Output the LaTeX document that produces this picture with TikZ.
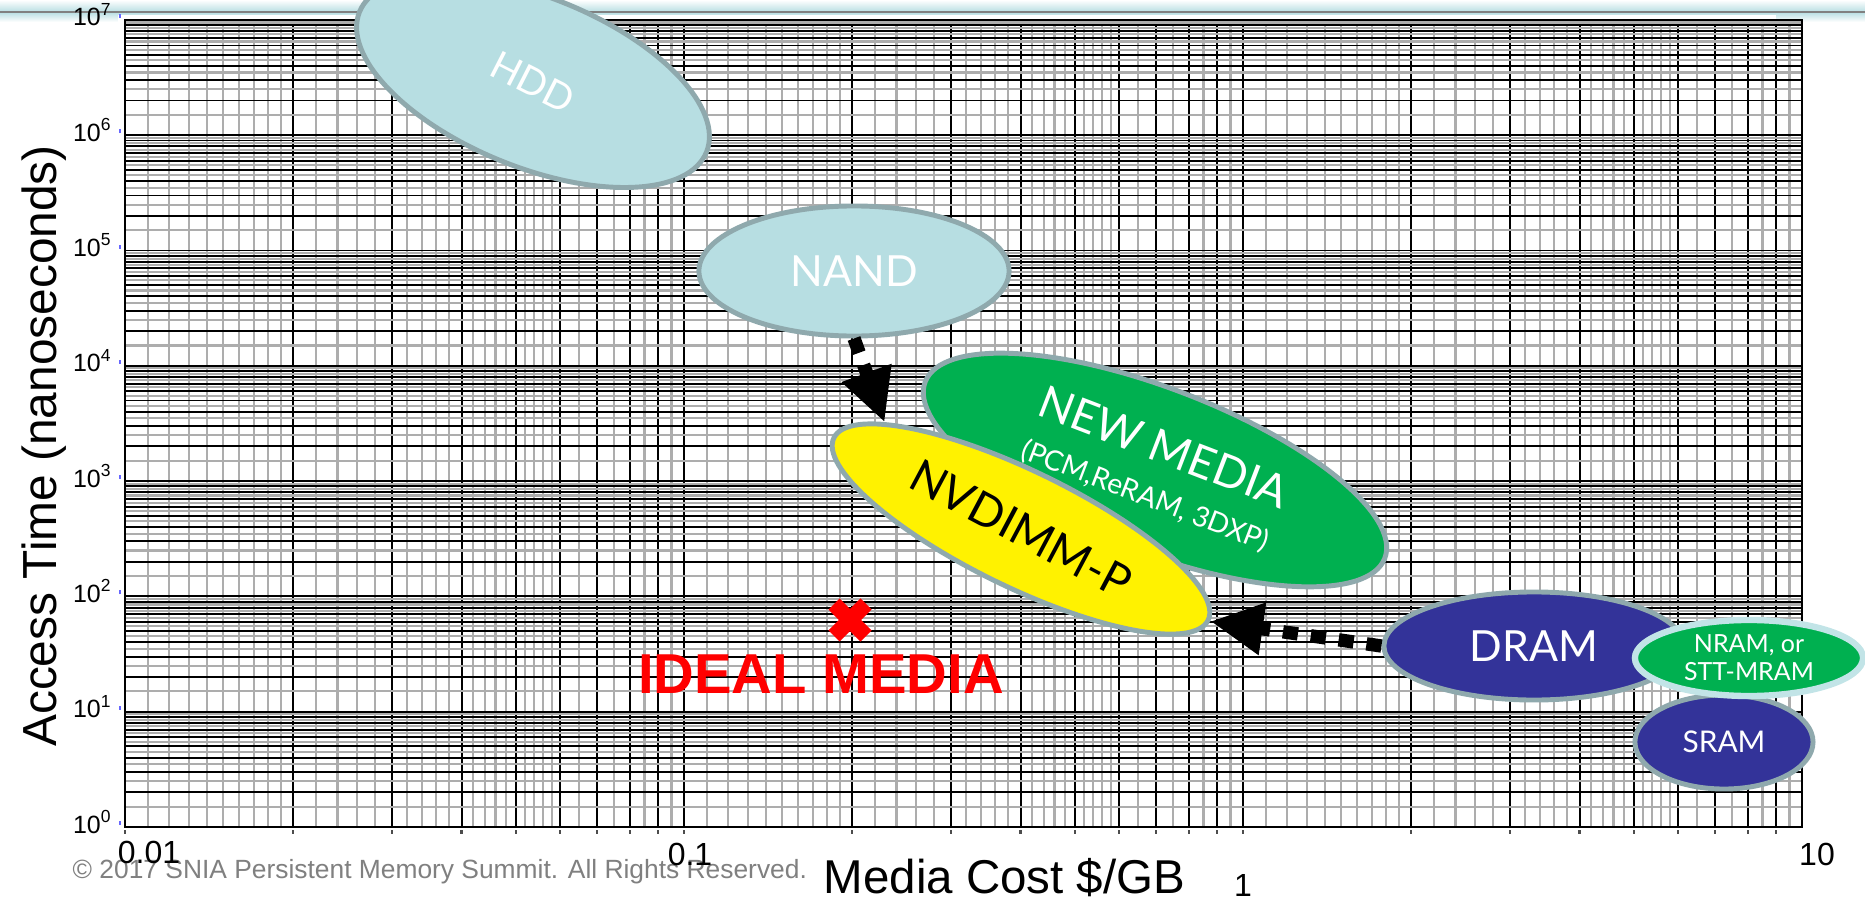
\documentclass[tikz,border=0pt]{standalone}
\usepackage{fontspec}
\setmainfont{Liberation Sans}
\newfontfamily\gill{Lato}
\usetikzlibrary{shapes.geometric,arrows.meta}
\definecolor{paleteal}{HTML}{B7DEE2}
\definecolor{rim}{HTML}{8FA9AD}
\definecolor{nvgreen}{HTML}{00B050}
\definecolor{ramblue}{HTML}{333399}
\definecolor{nramrim}{HTML}{C2E4E7}
\newcommand{\fsz}[2]{\fontsize{#1}{#2}\selectfont}
\begin{document}
\begin{tikzpicture}[x=0.01cm,y=-0.01cm,
	blob/.style={ellipse,draw=rim,line width=1.4pt,inner sep=0pt,text=white,align=center},
	gridbold/.style={black,line width=0.55pt},
	gridfine/.style={black!32,line width=0.6pt},
	migrate/.style={line width=3.8pt,dash pattern=on 4.3pt off 3.7pt,-{Triangle[length=15pt,width=14pt]}}]
	\useasboundingbox (0,0) rectangle (1865,903);
	% slide header rule
	\shade[top color=white,bottom color=paleteal] (0,0) rectangle (1865,12);
	\shade[top color=paleteal,bottom color=white] (0,12) rectangle (1865,22);
	\draw[gray,line width=0.8pt] (0,12)--(1865,12);
	\fill[white] (118,15) rectangle (1776,903);
	% log-log paper: 0.01..10 $/GB, 10^0..10^7 ns
	\foreach \d in {0,1,2}{
		\foreach \m in {1.1,1.2,1.3,1.4,1.5,1.6,1.7,1.8,1.9,2.2,2.4,2.6,2.8,3.2,3.4,3.6,3.8,4.2,4.4,4.6,4.8,5.2,5.4,5.6,5.8,6.5,7.5,8.5,9.5}
			\draw[gridfine] ({125+559*(\d+log10(\m))},20)--++(0,807);
		\foreach \m in {1,...,9}{
			\draw[gridbold] ({125+559*(\d+log10(\m))},20)--++(0,807);
			\draw[black!70,line width=0.6pt] ({125+559*(\d+log10(\m))},830)--++(0,4);
		}
	}
	\foreach \e in {0,...,6}{
		\foreach \m in {1.5,2.5,3.5,4.5,5.5,6.5,7.5,8.5,9.5}
			\draw[gridfine] (125,{827-115.3*(\e+log10(\m))})--++(1677,0);
		\foreach \m in {1,...,9}
			\draw[gridbold] (125,{827-115.3*(\e+log10(\m))})--++(1677,0);
	}
	\draw[gridbold,line width=0.7pt] (125,20) rectangle (1802,827);
	\foreach \e in {0,...,7}{
		\node[anchor=base east,inner sep=0pt,font=\fsz{7.1pt}{8pt}] (e\e) at (113,{833-115.3*\e}) {10\textsuperscript{\e}};
		\draw[blue!60,line width=0.6pt] (120,{825-115.3*\e})--++(0,-4);
	}
	\node[anchor=base west,inner sep=0pt,text=gray,font=\fsz{7.5pt}{9pt}] (copy) at (72,878) {\textcopyright{} 2017 SNIA Persistent Memory Summit. All Rights Reserved.};
	\node[anchor=base,inner sep=0pt,font=\fsz{9.1pt}{11pt}] (c0) at (149,863) {0.01};
	\node[anchor=base,inner sep=0pt,font=\fsz{9.1pt}{11pt}] (c1) at (690,865) {0.1};
	\node[anchor=base,inner sep=0pt,font=\fsz{9.1pt}{11pt}] (c2) at (1243,896) {1};
	\node[anchor=base,inner sep=0pt,font=\fsz{9.1pt}{11pt}] (c3) at (1817,865) {10};
	\node[rotate=90,anchor=base,inner sep=0pt,font=\fsz{13.6pt}{16pt}] (ytitle) at (57,446) {Access Time (nanoseconds)};
	\node[anchor=base west,inner sep=0pt,font=\fsz{13.5pt}{16pt}] (xtitle) at (823,893) {Media Cost \$/GB};
	% media bubbles
	\node[blob,fill=paleteal,minimum width=3.74cm,minimum height=1.7cm,rotate=-22,font=\gill\fsz{11pt}{13pt}] (hdd) at (533,82) {\rotatebox{-5}{HDD}};
	\node[blob,fill=paleteal,minimum width=3.1cm,minimum height=1.3cm,font=\gill\fsz{12.2pt}{14pt}] (nand) at (854,271) {NAND};
	\node[blob,fill=nvgreen,minimum width=4.92cm,minimum height=1.64cm,rotate=-21,font=\gill\fsz{12.8pt}{13pt}] (newmedia) at (1155,470) {NEW MEDIA\\{\fsz{8pt}{9pt}(PCM,ReRAM, 3DXP)}};
	\node[blob,fill=yellow,text=black,minimum width=4.16cm,minimum height=1.16cm,rotate=-26,font=\gill\fsz{13pt}{15pt}] (nvdimm) at (1021,529) {\rotatebox{-2}{NVDIMM-P}};
	\node[blob,fill=ramblue,minimum width=3cm,minimum height=1.08cm,font=\gill\fsz{12.2pt}{14pt}] (dram) at (1534,646) {DRAM};
	\node[blob,fill=ramblue,minimum width=1.78cm,minimum height=0.94cm,font=\gill\fsz{8.5pt}{10pt}] (sram) at (1724,742) {SRAM};
	\node[blob,fill=nvgreen,draw=nramrim,line width=1.8pt,minimum width=2.28cm,minimum height=0.76cm,font=\gill\fsz{7.1pt}{8pt}] (nram) at (1749,658) {NRAM, or\\STT-MRAM};
	\draw[migrate] (nand.south)--(nvdimm.168);
	\draw[migrate] (dram.west)--(nvdimm.east);
	% ideal point
	\coordinate (ideal) at (850,620);
	\draw[red,line width=4.5pt] (ideal) +(-16,-16)--+(16,16) (ideal) +(-16,16)--+(16,-16);
	\node[anchor=base,red,inner sep=0pt,font=\bfseries\fsz{16pt}{18pt}] (idealtxt) at (821,693) {IDEAL MEDIA};
\end{tikzpicture}
\end{document}
